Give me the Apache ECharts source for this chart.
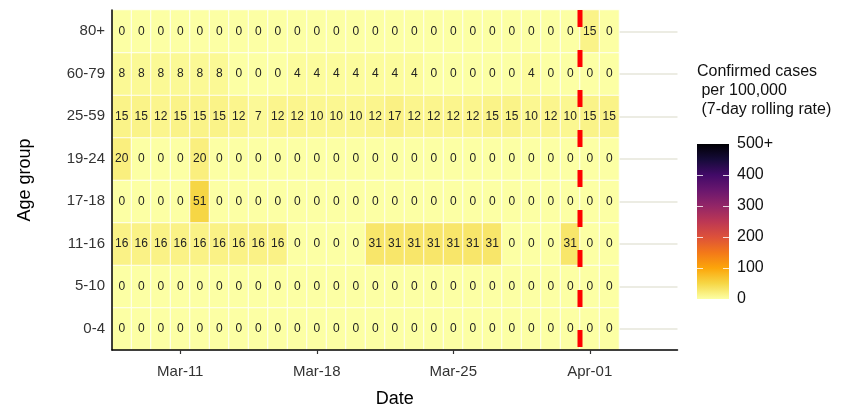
<!DOCTYPE html>
<html>
<head>
<meta charset="utf-8">
<script src="https://cdn.jsdelivr.net/npm/echarts@6/dist/echarts.min.js"></script>
<style>
html, body { margin: 0; padding: 0; background: #fff; }
#chart { width: 848px; height: 409px; }
</style>
</head>
<body>
<div id="chart"></div>
<script>
// dates shown in the panel (one tile per day)
const dates = ['Mar-08', 'Mar-09', 'Mar-10', 'Mar-11', 'Mar-12', 'Mar-13', 'Mar-14', 'Mar-15',
	'Mar-16', 'Mar-17', 'Mar-18', 'Mar-19', 'Mar-20', 'Mar-21', 'Mar-22', 'Mar-23', 'Mar-24',
	'Mar-25', 'Mar-26', 'Mar-27', 'Mar-28', 'Mar-29', 'Mar-30', 'Mar-31', 'Apr-01', 'Apr-02'];
// empty days the panel runs on to
const padDates = ['Apr-03', 'Apr-04', 'Apr-05'];
const tickDates = ['Mar-11', 'Mar-18', 'Mar-25', 'Apr-01'];
const cutoffDate = 'Apr-01';

const ageGroups = ['0-4', '5-10', '11-16', '17-18', '19-24', '25-59', '60-79', '80+'];

const age0_4    = [0, 0, 0, 0, 0, 0, 0, 0, 0, 0, 0, 0, 0, 0, 0, 0, 0, 0, 0, 0, 0, 0, 0, 0, 0, 0];
const age5_10   = [0, 0, 0, 0, 0, 0, 0, 0, 0, 0, 0, 0, 0, 0, 0, 0, 0, 0, 0, 0, 0, 0, 0, 0, 0, 0];
const age11_16  = [16, 16, 16, 16, 16, 16, 16, 16, 16, 0, 0, 0, 0, 31, 31, 31, 31, 31, 31, 31, 0, 0, 0, 31, 0, 0];
const age17_18  = [0, 0, 0, 0, 51, 0, 0, 0, 0, 0, 0, 0, 0, 0, 0, 0, 0, 0, 0, 0, 0, 0, 0, 0, 0, 0];
const age19_24  = [20, 0, 0, 0, 20, 0, 0, 0, 0, 0, 0, 0, 0, 0, 0, 0, 0, 0, 0, 0, 0, 0, 0, 0, 0, 0];
const age25_59  = [15, 15, 12, 15, 15, 15, 12, 7, 12, 12, 10, 10, 10, 12, 17, 12, 12, 12, 12, 15, 15, 10, 12, 10, 15, 15];
const age60_79  = [8, 8, 8, 8, 8, 8, 0, 0, 0, 4, 4, 4, 4, 4, 4, 4, 0, 0, 0, 0, 0, 4, 0, 0, 0, 0];
const age80plus = [0, 0, 0, 0, 0, 0, 0, 0, 0, 0, 0, 0, 0, 0, 0, 0, 0, 0, 0, 0, 0, 0, 0, 0, 15, 0];

const rows = [age0_4, age5_10, age11_16, age17_18, age19_24, age25_59, age60_79, age80plus];

// inferno, low value -> high value
const palette = ['#FCFFA4', '#F6D746', '#FCA50A', '#F37819', '#DD513A', '#BC3754',
	'#932667', '#6A176E', '#420A68', '#160B39', '#000004'];
const legendMax = 500;

let allDates = dates.concat(padDates);
let cells = [];
rows.forEach((row, i) => {
	row.forEach((v, j) => cells.push([j, i, v]));
});
let cutIdx = dates.indexOf(cutoffDate);
let showTick = (idx, val) => tickDates.indexOf(val) >= 0;

let font = "'Liberation Sans', Arial, sans-serif";
let chart = echarts.init(document.getElementById('chart'));

let option = {
	animation: false,
	textStyle: {fontFamily: font},
	title: {
		left: 697,
		top: 62,
		padding: 0,
		text: 'Confirmed cases\n per 100,000\n (7-day rolling rate)',
		textStyle: {
			fontSize: 16,
			lineHeight: 19,
			fontWeight: 'normal',
			color: '#111',
			fontFamily: font
		}
	},
	visualMap: {
		show: false,
		type: 'continuous',
		seriesIndex: 0,
		dimension: 2,
		min: 0,
		max: legendMax,
		inRange: {color: palette}
	},
	grid: [
		{left: 112, top: 10, width: 565.5, height: 340, outerBoundsMode: 'none'},
		{left: 697, top: 144, width: 32, height: 155, outerBoundsMode: 'none'}
	],
	xAxis: [
		{
			type: 'category',
			gridIndex: 0,
			data: allDates,
			offset: 3,
			z: 8,
			axisLine: {lineStyle: {color: '#000', width: 1.5}},
			axisTick: {show: true, alignWithLabel: true, length: 4, lineStyle: {color: '#333', width: 1.2}},
			axisLabel: {interval: showTick, fontSize: 15, color: '#333', margin: 11},
			splitLine: {show: false},
			name: 'Date',
			nameLocation: 'middle',
			nameGap: 37,
			nameTextStyle: {fontSize: 18, color: '#000'}
		},
		{type: 'value', gridIndex: 0, min: 0, max: allDates.length, show: false},
		{type: 'category', gridIndex: 1, data: ['scale'], show: false}
	],
	yAxis: [
		{
			type: 'category',
			gridIndex: 0,
			data: ageGroups,
			z: 8,
			axisLine: {lineStyle: {color: '#000', width: 1.5}},
			axisTick: {alignWithLabel: true, length: 4, lineStyle: {color: '#333', width: 1.2}},
			axisLabel: {fontSize: 15, color: '#333', margin: 7},
			splitLine: {show: false},
			name: 'Age group',
			nameLocation: 'middle',
			nameGap: 78,
			nameTextStyle: {fontSize: 18, color: '#000'}
		},
		{type: 'value', gridIndex: 0, min: 0, max: ageGroups.length, show: false},
		{
			type: 'value',
			gridIndex: 1,
			position: 'right',
			min: 0,
			max: legendMax,
			interval: 100,
			z: 5,
			axisLine: {show: false},
			axisTick: {show: true, inside: true, length: 6, customValues: [100, 200, 300, 400],
				lineStyle: {color: 'rgba(255,255,255,0.8)', width: 1}},
			axisLabel: {fontSize: 16, color: '#111', margin: 8,
				formatter: v => v === legendMax ? v + '+' : String(v)},
			splitLine: {show: false}
		},
		{
			type: 'value',
			gridIndex: 1,
			position: 'left',
			min: 0,
			max: legendMax,
			interval: 100,
			z: 5,
			axisLine: {show: false},
			axisTick: {show: true, inside: true, length: 6, customValues: [100, 200, 300, 400],
				lineStyle: {color: 'rgba(255,255,255,0.8)', width: 1}},
			axisLabel: {show: false},
			splitLine: {show: false}
		}
	],
	series: [
		{
			type: 'heatmap',
			xAxisIndex: 0,
			yAxisIndex: 0,
			data: cells,
			z: 2,
			itemStyle: {borderColor: 'rgba(255,255,255,0.85)', borderWidth: 1},
			label: {
				show: true,
				fontSize: 12,
				color: '#222',
				formatter: p => p.value[2]
			},
			markLine: {
				silent: true,
				z: 1,
				symbol: ['none', 'none'],
				label: {show: false},
				lineStyle: {color: '#e6e6da', width: 1.5, type: 'solid'},
				data: ageGroups.map(g => ({yAxis: g}))
			}
		},
		{
			type: 'line',
			name: 'cutoff',
			xAxisIndex: 1,
			yAxisIndex: 1,
			z: 6,
			symbol: 'none',
			silent: true,
			lineStyle: {color: '#ff0000', width: 5, type: [17, 23]},
			data: [[cutIdx, ageGroups.length], [cutIdx, 0]]
		},
		{
			type: 'bar',
			xAxisIndex: 2,
			yAxisIndex: 2,
			barWidth: '100%',
			silent: true,
			data: [legendMax],
			itemStyle: {
				color: new echarts.graphic.LinearGradient(0, 1, 0, 0,
					palette.map((c, i) => ({offset: i / (palette.length - 1), color: c})))
			}
		}
	]
};
chart.setOption(option);
</script>
</body>
</html>
